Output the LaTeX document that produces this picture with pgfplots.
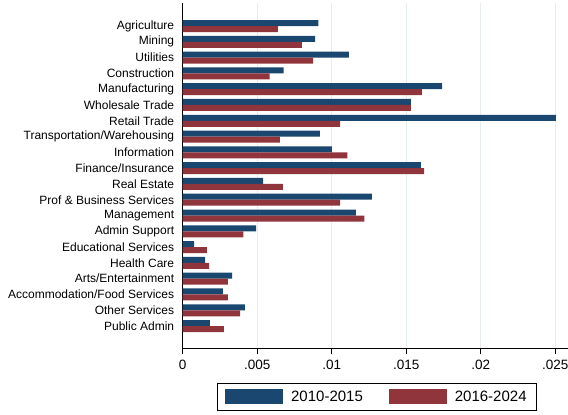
\documentclass[border=0pt]{standalone}
\usepackage{fontspec}
\setmainfont{Liberation Sans}
\usepackage{pgfplots}
\pgfplotsset{compat=1.18}
\definecolor{sblue}{HTML}{1A476F}
\definecolor{sred}{HTML}{90353B}
\definecolor{sgrid}{HTML}{E6EDF0}
\begin{document}
\begin{tikzpicture}
\begin{axis}[
    at={(0pt,0pt)}, anchor=south west,
    scale only axis,
    width=385.3pt, height=345pt,
    xbar=0pt, bar width=6pt,
    xmin=0, xmax=0.02586,
    ymin=-1.44, ymax=20.41,
    y dir=reverse,
    axis lines*=left,
    axis line style={line width=0.9pt},
    scaled x ticks=false,
    xtick={0,0.005,0.01,0.015,0.02,0.025},
    xticklabels={0,.005,.01,.015,.02,.025},
    x tick label style={font=\fontsize{13.5}{15}\selectfont, yshift=-2pt},
    tick align=outside,
    major tick length=6pt,
    x tick style={black, line width=0.8pt},
    xmajorgrids,
    grid style={sgrid, line width=1pt},
    ytick={0,...,19},
    yticklabels={Agriculture, Mining, Utilities, Construction, Manufacturing,
      Wholesale Trade, Retail Trade, Transportation/Warehousing, Information,
      Finance/Insurance, Real Estate, Prof \& Business Services, Management,
      Admin Support, Educational Services, Health Care, Arts/Entertainment,
      Accommodation/Food Services, Other Services, Public Admin},
    y tick label style={font=\fontsize{12}{13}\selectfont, xshift=1pt},
    y tick style={draw=none},
    /pgf/number format/assume math mode=true,
    legend columns=2,
    legend style={at={(0.504,-0.0997)}, anchor=north, draw=black,
      line width=0.8pt, font=\fontsize{15}{16}\selectfont,
      inner xsep=8pt, inner ysep=5.5pt,
      /tikz/every odd column/.append style={column sep=6pt},
      /tikz/every even column/.append style={column sep=24pt}},
    legend image code/.code={\fill[#1] (0pt,-7.8pt) rectangle (58pt,7.8pt);},
]
\addplot[fill=sblue, draw=none, bar shift=3pt] coordinates {
 (0.00910,0) (0.00888,1) (0.01116,2) (0.00678,3) (0.01742,4)
 (0.01532,5) (0.02505,6) (0.00921,7) (0.01002,8) (0.01599,9)
 (0.00539,10) (0.01270,11) (0.01163,12) (0.00492,13) (0.00076,14)
 (0.00150,15) (0.00331,16) (0.00270,17) (0.00418,18) (0.00183,19)
};
\addplot[fill=sred, draw=none, bar shift=-3pt] coordinates {
 (0.00638,0) (0.00800,1) (0.00875,2) (0.00584,3) (0.01606,4)
 (0.01532,5) (0.01056,6) (0.00653,7) (0.01105,8) (0.01620,9)
 (0.00673,10) (0.01056,11) (0.01219,12) (0.00407,13) (0.00163,14)
 (0.00177,15) (0.00304,16) (0.00304,17) (0.00385,18) (0.00277,19)
};
\legend{2010-2015, 2016-2024}
\end{axis}
\pgfresetboundingbox
\path[use as bounding box] (-182.7pt,-66.7pt) rectangle (385.3pt,348.3pt);
\end{tikzpicture}
\end{document}
